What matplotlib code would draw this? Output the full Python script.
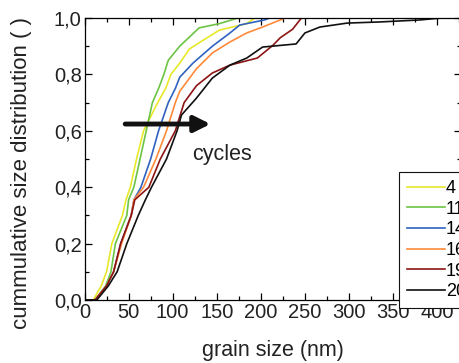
import matplotlib
matplotlib.use("Agg")
import matplotlib.pyplot as plt
from matplotlib.ticker import MultipleLocator, FuncFormatter

plt.rcParams['font.family'] = ['Liberation Sans', 'DejaVu Sans']

# cumulative grain size distributions
labels = ['4', '11', '14', '16', '19', '20']
colors = ['#e8e82a', '#6cc444', '#2f62c0', '#ff8a3a', '#8e1414', '#111111']

size_4 = [0, 10, 19, 25, 31, 43, 47, 52, 59, 67, 75, 83, 92, 98, 108, 119, 134, 153, 184, 193]
cdf_4 = [0, 0, 0.05, 0.1, 0.2, 0.3, 0.355, 0.4, 0.5, 0.6, 0.65, 0.7, 0.75, 0.8, 0.84, 0.89, 0.92, 0.957, 0.98, 1.0]

size_11 = [0, 12, 24, 30, 35, 48, 50, 56, 63, 70, 77, 84, 90, 95, 108, 130, 153, 174]
cdf_11 = [0, 0, 0.05, 0.1, 0.2, 0.3, 0.355, 0.4, 0.5, 0.6, 0.7, 0.75, 0.8, 0.85, 0.9, 0.965, 0.98, 1.0]

size_14 = [0, 12, 25, 33, 41, 53, 56, 64, 75, 84, 95, 103, 108, 123, 145, 165, 176, 204, 210]
cdf_14 = [0, 0, 0.05, 0.1, 0.2, 0.3, 0.355, 0.4, 0.5, 0.6, 0.7, 0.75, 0.79, 0.84, 0.9, 0.947, 0.975, 0.993, 1.0]

size_16 = [0, 12, 25, 33, 42, 53, 56, 67, 81, 93, 103, 108, 127, 145, 165, 184, 202, 222, 227]
cdf_16 = [0, 0, 0.05, 0.1, 0.2, 0.3, 0.355, 0.4, 0.5, 0.6, 0.7, 0.74, 0.82, 0.876, 0.915, 0.947, 0.968, 0.993, 1.0]

size_19 = [0, 12, 25, 33, 41, 53, 57, 73, 86, 103, 113, 127, 145, 165, 196, 214, 222, 236, 246]
cdf_19 = [0, 0, 0.05, 0.1, 0.2, 0.3, 0.355, 0.4, 0.5, 0.6, 0.7, 0.76, 0.805, 0.833, 0.858, 0.904, 0.93, 0.96, 1.0]

size_20 = [0, 14, 27, 37, 48, 61, 69, 76, 93, 105, 110, 127, 145, 165, 184, 202, 240, 250, 267, 298, 335, 380, 405]
cdf_20 = [0, 0, 0.05, 0.1, 0.2, 0.3, 0.355, 0.4, 0.5, 0.6, 0.656, 0.716, 0.787, 0.833, 0.858, 0.897, 0.908, 0.947, 0.968, 0.982, 0.986, 0.993, 1.0]

sizes = [size_4, size_11, size_14, size_16, size_19, size_20]
cdfs = [cdf_4, cdf_11, cdf_14, cdf_16, cdf_19, cdf_20]

W, H = 459, 363
fig = plt.figure(figsize=(W / 100, H / 100), dpi=100)
ax = fig.add_axes([84.5 / W, 1 - 300 / H, (461 - 84.5) / W, (300 - 18) / H])

for x, y, c, lab in zip(sizes, cdfs, colors, labels):
    ax.plot(x, y, color=c, lw=1.2, label=lab)

ax.set_xlim(0, 427)
ax.set_ylim(0, 1.0)
ax.xaxis.set_major_locator(MultipleLocator(50))
ax.xaxis.set_minor_locator(MultipleLocator(25))
ax.yaxis.set_major_locator(MultipleLocator(0.2))
ax.yaxis.set_minor_locator(MultipleLocator(0.1))
ax.yaxis.set_major_formatter(FuncFormatter(lambda v, p: f'{v:.1f}'.replace('.', ',')))
ax.tick_params(which='both', direction='in', top=True, right=True, labelsize=14.5,
               labelcolor='#222222', width=0.9)
ax.tick_params(which='major', length=5, pad=2)
ax.tick_params(which='minor', length=3)
for s in ax.spines.values():
    s.set_linewidth(0.9)

ax.set_xlabel('grain size (nm)', fontsize=15.5, color='#222222', labelpad=13)
ax.set_ylabel('cummulative size distribution ( )', fontsize=16, color='#222222')
ax.yaxis.set_label_coords(-0.14, 0.45)

ax.annotate('', xy=(146, 0.624), xytext=(43, 0.624),
            arrowprops=dict(arrowstyle='-|>', lw=3.5, color='#111111', mutation_scale=24))
ax.text(122, 0.515, 'cycles', fontsize=15.5, color='#222222', va='center', ha='left')

leg = ax.legend(loc='upper left', bbox_to_anchor=(399 / W, 1 - 172 / H),
                bbox_transform=fig.transFigure, borderaxespad=0, fontsize=13,
                handlelength=2.1, handletextpad=0.05, labelspacing=0.2,
                borderpad=0.45, fancybox=False, framealpha=1)
leg.get_frame().set_edgecolor('#111111')
leg.get_frame().set_linewidth(0.8)

fig.savefig('out.png', dpi=100)
